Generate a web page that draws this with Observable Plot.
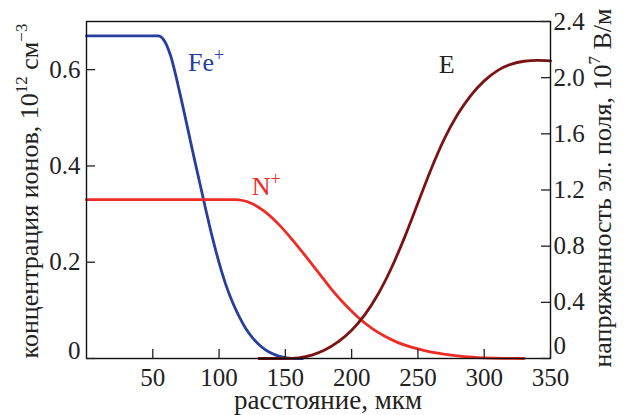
<!DOCTYPE html>
<html><head><meta charset="utf-8">
<script src="https://cdn.jsdelivr.net/npm/d3@7"></script>
<script src="https://cdn.jsdelivr.net/npm/@observablehq/plot@0.6"></script>
<style>body{margin:0;background:#fff;} svg{display:block;}</style>
</head><body><div id="chart"></div>
<script>
// Fe+ ion concentration (10^12 cm^-3) vs distance (µm)
const feX = [0, 54, 56, 58, 60, 62, 64, 66, 70, 80, 90, 95, 100, 105, 110, 115, 120, 125, 130, 135, 140, 145, 150, 155, 160, 163];
const feY = [0.67, 0.67, 0.6685, 0.663, 0.6535, 0.6405, 0.624, 0.603, 0.5565, 0.4315, 0.309, 0.251, 0.199, 0.154, 0.118, 0.088, 0.063, 0.044, 0.029, 0.018, 0.0102, 0.0049, 0.0017, 0.0002, 0, 0];
// N+ ion concentration
const nX = [0, 112, 118, 125, 135, 145, 155, 165, 175, 185, 195, 205, 215, 225, 235, 245, 255, 265, 275, 285, 300, 315, 330];
const nY = [0.33, 0.33, 0.3282, 0.3216, 0.3041, 0.2786, 0.2476, 0.2136, 0.1786, 0.143, 0.112, 0.085, 0.063, 0.046, 0.033, 0.0235, 0.0165, 0.011, 0.007, 0.004, 0.0015, 0.0003, 0];
// Electric field E (10^7 V/m)
const eX = [130, 140, 150, 160, 170, 180, 190, 200, 210, 220, 230, 240, 250, 260, 270, 280, 290, 300, 310, 320, 330, 340, 350];
const eY = [0, 0, 0, 0.005, 0.024, 0.062, 0.120, 0.201, 0.312, 0.459, 0.6445, 0.8645, 1.107, 1.350, 1.5655, 1.739, 1.874, 1.977, 2.050, 2.095, 2.117, 2.123, 2.120];
// ticks
const xTicks = [50, 100, 150, 200, 250, 300, 350];
const leftTicks = [0, 0.2, 0.4, 0.6];
const rightTicks = [0, 0.4, 0.8, 1.2, 1.6, 2.0, 2.4];
const leftMax = 0.7, rightMax = 2.4;
const k = leftMax / rightMax;

const W = 632, H = 415, mL = 86, mR = 82, mT = 21, mB = 57;
const innerW = W - mL - mR, innerH = H - mT - mB;
const tickLen = 9;
const axisColor = "#222";
const font = "'Liberation Serif', 'DejaVu Serif', serif";

const fe = feX.map((x, i) => ({x, y: feY[i]}));
const nn = nX.map((x, i) => ({x, y: nY[i]}));
const ee = eX.map((x, i) => ({x, y: eY[i] * k}));
const fmt1 = v => v === 0 ? "0" : v.toFixed(1);

const chart = Plot.plot({
  width: W, height: H,
  marginLeft: mL, marginRight: mR, marginTop: mT, marginBottom: mB,
  style: {fontFamily: font, fontSize: "25px", color: axisColor, background: "#fff"},
  x: {domain: [0, 350]},
  y: {domain: [0, leftMax]},
  marks: [
    Plot.line(fe, {x: "x", y: "y", stroke: "#263f9c", strokeWidth: 2.8, curve: "monotone-x"}),
    Plot.line(nn, {x: "x", y: "y", stroke: "#ee2c25", strokeWidth: 2.8, curve: "monotone-x"}),
    Plot.line(ee, {x: "x", y: "y", stroke: "#7a1414", strokeWidth: 2.8, curve: "monotone-x"}),
    Plot.frame({stroke: "#111", strokeWidth: 1.4}),
    Plot.tickX(xTicks, {x: d => d, insetTop: innerH - tickLen, stroke: axisColor, strokeWidth: 1.3}),
    Plot.tickY(leftTicks, {y: d => d, insetRight: innerW - tickLen, stroke: axisColor, strokeWidth: 1.3}),
    Plot.tickY(rightTicks, {y: d => d * k, insetLeft: innerW - tickLen, stroke: axisColor, strokeWidth: 1.3}),
    Plot.axisX(xTicks, {anchor: "bottom", tickSize: 0, tickPadding: 10, label: null, fill: axisColor}),
    Plot.axisY(leftTicks.filter(d => d !== 0), {anchor: "left", tickSize: 0, tickPadding: 6, label: null, fill: axisColor, tickFormat: fmt1}),
    Plot.axisY(leftTicks.filter(d => d === 0), {anchor: "left", tickSize: 0, tickPadding: 6, label: null, fill: axisColor, dy: -8, tickFormat: fmt1}),
    Plot.axisY(rightTicks.filter(d => d !== 0).map(d => d * k), {anchor: "right", tickSize: 0, tickPadding: 3, label: null, fill: axisColor,
      tickFormat: d => fmt1(Math.round(d / k * 10) / 10)}),
    Plot.axisY(rightTicks.filter(d => d === 0).map(d => d * k), {anchor: "right", tickSize: 0, tickPadding: 3, label: null, fill: axisColor, dy: -13,
      tickFormat: d => fmt1(Math.round(d / k * 10) / 10)})
  ]
});
document.getElementById("chart").appendChild(chart);

const svg = d3.select(chart);
const sx = chart.scale("x"), sy = chart.scale("y");

// series labels
function seriesLabel(xv, yv, base, sup, color) {
  const t = svg.append("text").attr("font-family", font).attr("font-size", 26).attr("fill", color)
    .attr("text-anchor", "start")
    .attr("x", sx.apply(xv)).attr("y", sy.apply(yv));
  t.append("tspan").text(base);
  if (sup) t.append("tspan").attr("font-size", 18).attr("dy", -10).text(sup);
}
seriesLabel(77, 0.597, "Fe", "+", "#263f9c");
seriesLabel(125, 0.338, "N", "+", "#ee2c25");
seriesLabel(266, 0.591, "E", null, "#222");

// axis titles
svg.append("text").attr("font-family", font).attr("font-size", 27).attr("fill", axisColor)
  .attr("text-anchor", "middle").attr("x", 328).attr("y", 409).text("расстояние, мкм");

function rotTitle(x, y, parts) {
  const t = svg.append("text").attr("font-family", font).attr("font-size", 26).attr("fill", axisColor)
    .attr("text-anchor", "middle").attr("transform", `translate(${x},${y}) rotate(-90)`);
  parts.forEach(p => {
    if (p.sup) t.append("tspan").attr("font-size", 17).attr("dy", -11).text(p.t);
    else if (p.down) t.append("tspan").attr("dy", 11).text(p.t);
    else t.append("tspan").text(p.t);
  });
}
rotTitle(38, 191, [{t: "концентрация ионов, 10"}, {t: "12", sup: true}, {t: " см", down: true}, {t: "−3", sup: true}]);
rotTitle(611, 188, [{t: "напряженность эл. поля, 10"}, {t: "7", sup: true}, {t: " В/м", down: true}]);
</script>
</body></html>
